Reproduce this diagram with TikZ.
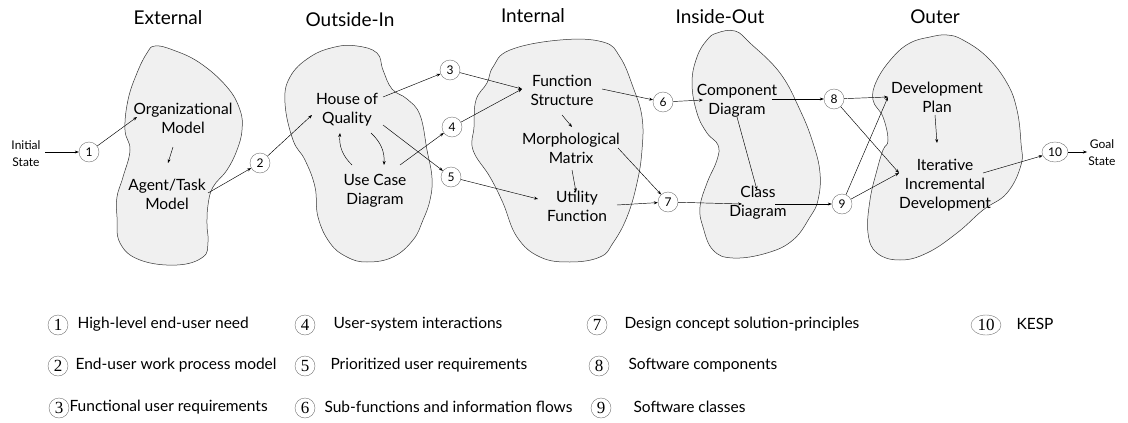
\documentclass[tikz,border=0pt]{standalone}
\usepackage{fontspec}
\setmainfont{Lato}
\newfontfamily\numfont{Liberation Serif}
\usetikzlibrary{arrows.meta,shapes.geometric}
\begin{document}
\begin{tikzpicture}[x=1pt,y=-1pt,
  blob/.style={draw=black!80, line width=0.5pt, fill=black!6},
  arr/.style={-{Stealth[length=4pt,width=3pt]}, line width=0.45pt},
  num/.style={circle, draw=black!55, line width=0.4pt, minimum size=20pt, inner sep=0pt, font=\fontsize{12}{12}\selectfont},
  numw/.style={ellipse, draw=black!55, line width=0.4pt, minimum width=26pt, minimum height=20pt, inner sep=0pt, font=\fontsize{12}{12}\selectfont},
  lnum/.style={circle, draw=black!55, line width=0.4pt, minimum size=20pt, inner sep=0pt, font=\numfont\fontsize{17}{17}\selectfont},
  lnumw/.style={ellipse, draw=black!55, line width=0.4pt, minimum width=30pt, minimum height=20pt, inner sep=0pt, font=\numfont\fontsize{17}{17}\selectfont},
  head/.style={font=\fontsize{19}{22}\selectfont},
  txt/.style={align=center, font=\fontsize{15.5}{19}\selectfont},
  small/.style={align=center, font=\fontsize{12}{17}\selectfont},
  leg/.style={anchor=west, font=\fontsize{15.5}{18}\selectfont}]
\useasboundingbox (0,0) rectangle (1128,423);

% blobs
\draw[blob] plot[smooth cycle, tension=0.7] coordinates {(155,46) (173,50) (200,63) (227,87) (240,110) (242,130) (237,150) (227,170) (213,187) (208,205) (207,225) (208,242) (203,257) (177,265) (140,260) (120,243) (117,217) (117,197) (123,177) (130,150) (125,130) (128,100) (137,73) (147,53)};
\draw[blob] plot[smooth cycle, tension=0.7] coordinates {(357,46) (377,53) (383,70) (392,89) (407,99) (420,115) (427,150) (432,178) (430,200) (423,220) (413,240) (393,257) (367,262) (347,257) (330,243) (318,217) (315,187) (305,160) (293,140) (285,103) (290,77) (310,57) (335,47)};
\draw[blob] plot[smooth cycle, tension=0.7] coordinates {(493,67) (510,50) (560,40) (603,42) (620,57) (633,87) (642,117) (642,150) (637,183) (627,217) (613,243) (600,257) (570,262) (540,257) (517,237) (503,203) (490,177) (473,150) (474,127) (476,100) (487,83)};
\draw[blob] plot[smooth cycle, tension=0.7] coordinates {(717,33) (735,31) (750,43) (780,73) (800,110) (813,143) (820,173) (818,200) (810,217) (793,240) (767,253) (733,258) (713,250) (703,227) (700,207) (707,183) (717,160) (718,145) (707,133) (697,113) (692,83) (697,57) (707,40)};
\draw[blob] plot[smooth cycle, tension=0.7] coordinates {(930,37) (947,35) (963,40) (987,57) (1007,83) (1017,110) (1021,143) (1021,165) (1007,193) (983,210) (957,233) (927,253) (900,260) (877,253) (868,233) (870,200) (877,170) (883,150) (888,140) (883,117) (873,100) (877,80) (893,57) (910,43)};

% headings
\node[head] (hExt) at (168,18) {External};
\node[head] (hOI) at (350,20) {Outside-In};
\node[head] (hInt) at (533,16) {Internal};
\node[head] (hIO) at (720,17) {Inside-Out};
\node[head] (hOut) at (935,17) {Outer};

% texts
\node[small] (init) at (26,154) {Initial\\State};
\node[small] (goal) at (1102,153) {Goal\\State};
\node[txt] (org) at (183,118) {Organizational\\Model};
\node[txt] (agent) at (167,194) {Agent/Task\\Model};
\node[txt] (house) at (347,110) {House of\\Quality};
\node[txt] (usecase) at (375,191) {Use Case\\Diagram};
\node[txt] (fs) at (562,90) {Function\\Structure};
\node[txt] (mm) at (571,148) {Morphological\\Matrix};
\node[txt] (uf) at (577,206) {Utility\\Function};
\node[txt] (comp) at (737,101) {Component\\Diagram};
\node[txt] (class) at (758,203) {Class\\Diagram};
\node[txt] (dp) at (937,97) {Development\\Plan};
\node[txt] (iid) at (945,185) {Iterative\\Incremental\\Development};

% numbered circles
\node[num] (c1) at (89,152) {1};
\node[num] (c2) at (260,163) {2};
\node[num] (c3) at (450,70) {3};
\node[num] (c4) at (452,127) {4};
\node[num] (c5) at (451,177) {5};
\node[num] (c6) at (663,102) {6};
\node[num] (c7) at (668,202) {7};
\node[num] (c8) at (834,99) {8};
\node[num] (c9) at (842,204) {9};
\node[numw] (c10) at (1055,152) {10};

% connector end points
\coordinate (initOut) at (45,152);
\coordinate (orgIn) at (137,117);
\coordinate (orgDown) at (173,147);
\coordinate (agentUp) at (168,163);
\coordinate (agentOut) at (208,193);
\coordinate (houseIn) at (312,115);
\coordinate (houseOutA) at (383,97);
\coordinate (houseOutB) at (383,125);
\coordinate (houseLow) at (340,133);
\coordinate (houseLowB) at (371,133);
\coordinate (ucUp) at (352,165);
\coordinate (ucTop) at (384,165);
\coordinate (ucOut) at (400,165);
\coordinate (fsIn) at (522,89);
\coordinate (fsOut) at (602,89);
\coordinate (fsDown) at (562,115);
\coordinate (mmUp) at (572,127);
\coordinate (mmDown) at (572,170);
\coordinate (mmOut) at (618,148);
\coordinate (ufUp) at (576,192);
\coordinate (ufIn) at (538,199);
\coordinate (ufOut) at (617,205);
\coordinate (compIn) at (703,100);
\coordinate (compOut) at (772,99);
\coordinate (compDown) at (737,117);
\coordinate (classUp) at (757,190);
\coordinate (classIn) at (742,204);
\coordinate (classOut) at (775,204);
\coordinate (dpIn) at (888,97);
\coordinate (dpDown) at (935,115);
\coordinate (iidUp) at (937,143);
\coordinate (iidIn) at (899,173);
\coordinate (iidOut) at (983,173);
\coordinate (goalIn) at (1087,152);

% connectors
\draw[arr] (initOut) -- (c1);
\draw[arr] (c1) -- (orgIn);
\draw[arr] (orgDown) -- (agentUp);
\draw[arr] (agentOut) -- (c2);
\draw[arr] (c2) -- (houseIn);
\draw[arr] (houseOutA) -- (c3);
\draw[arr] (houseOutB) -- (c5);
\draw[arr] (ucOut) -- (c4);
\draw[arr] (ucUp) to[bend left=25] (houseLow);
\draw[arr] (houseLowB) to[bend left=25] (ucTop);
\draw[arr] (c3) -- (fsIn);
\draw[arr] (c4) -- (fsIn);
\draw[arr] (c5) -- (ufIn);
\draw[arr] (fsDown) -- (mmUp);
\draw[arr] (mmDown) -- (ufUp);
\draw[arr] (fsOut) -- (c6);
\draw[arr] (mmOut) -- (c7);
\draw[arr] (ufOut) -- (c7);
\draw[arr] (c6) -- (compIn);
\draw[arr] (c7) -- (classIn);
\draw[arr] (compDown) -- (classUp);
\draw[arr] (compOut) -- (c8);
\draw[arr] (classOut) -- (c9);
\draw[arr] (c8) -- (dpIn);
\draw[arr] (c9) -- (dpIn);
\draw[arr] (c8) -- (iidIn);
\draw[arr] (c9) -- (iidIn);
\draw[arr] (dpDown) -- (iidUp);
\draw[arr] (iidOut) -- (c10);
\draw[arr] (c10) -- (goalIn);

% legend
\node[lnum] (l1) at (58,325) {1};
\node[leg] (t1) at (74,324) {High-level end-user need};
\node[lnum] (l2) at (58,366) {2};
\node[leg] (t2) at (72,365) {End-user work process model};
\node[lnum] (l3) at (59,408) {3};
\node[leg] (t3) at (66,407) {Functional user requirements};
\node[lnum] (l4) at (305,325) {4};
\node[leg] (t4) at (330,324) {User-system interactions};
\node[lnum] (l5) at (305,366) {5};
\node[leg] (t5) at (327,365) {Prioritized user requirements};
\node[lnum] (l6) at (305,408) {6};
\node[leg] (t6) at (321,407) {Sub-functions and information flows};
\node[lnum] (l7) at (597,325) {7};
\node[leg] (t7) at (621,324) {Design concept solution-principles};
\node[lnum] (l8) at (599,366) {8};
\node[leg] (t8) at (625,365) {Software components};
\node[lnum] (l9) at (601,408) {9};
\node[leg] (t9) at (630,407) {Software classes};
\node[lnumw] (l10) at (986,325) {10};
\node[leg] (t10) at (1013,324) {KESP};
\end{tikzpicture}
\end{document}
